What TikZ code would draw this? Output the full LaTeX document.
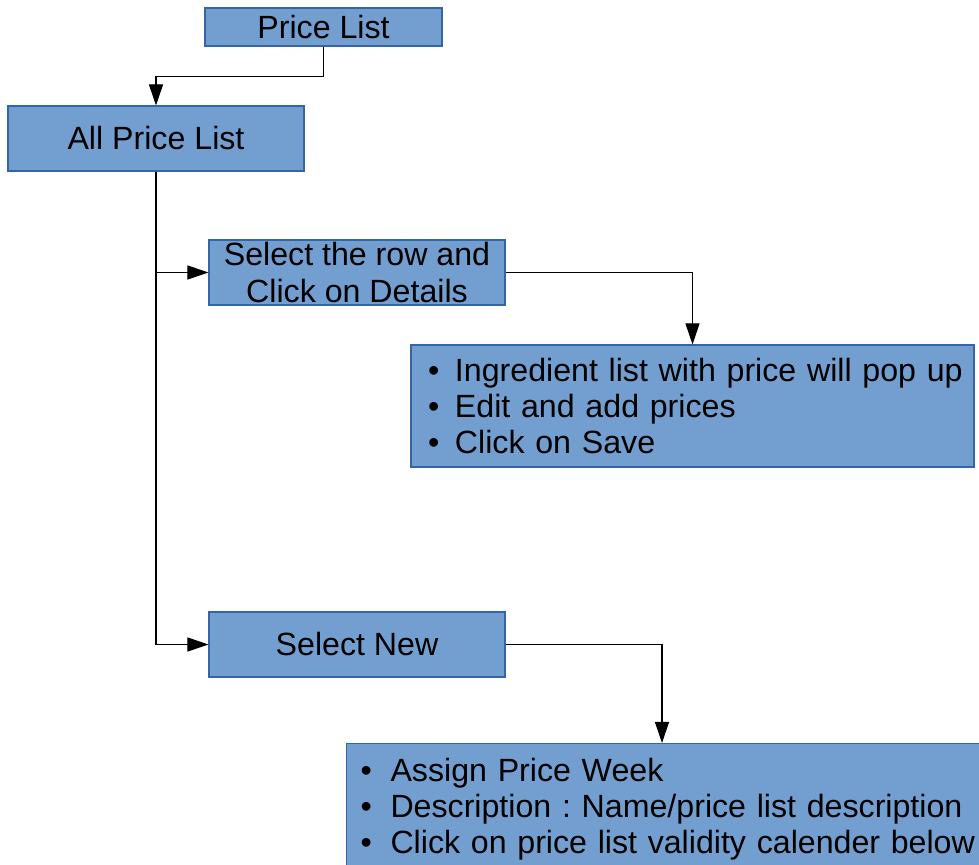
\documentclass[tikz,border=0pt]{standalone}
\usepackage{fontspec}
\setmainfont{Liberation Sans}
\usetikzlibrary{arrows.meta}
\definecolor{boxfill}{HTML}{729FCF}
\definecolor{boxline}{HTML}{3465A4}
\newcommand{\listdot}[2][0.54cm]{\hspace*{#2}\makebox[#1][l]{\textbullet}}
\begin{document}
\frenchspacing
\begin{tikzpicture}[
    box/.style={draw=boxline, fill=boxfill, line width=0.6pt, inner sep=0pt,
        font=\fontsize{18.3}{20.5}\selectfont, align=center},
    flow/.style={line width=0.6pt, -{Triangle[length=12pt,width=8pt]}}
  ]
            \clip (0,0) rectangle (19.58,-17.3);
            \useasboundingbox (0,0) rectangle (19.58,-17.3);
            \node[box, minimum width=4.74cm, minimum height=0.76cm] (pricelist) at (6.47,-0.54) {Price List};
            \node[box, minimum width=5.92cm, minimum height=1.3cm] (allprice) at (3.12,-2.77) {All Price List};
            \node[box, minimum width=5.92cm, minimum height=1.3cm] (selectrow) at (7.14,-5.45) {Select the row and\\Click on Details};
            \node[box, minimum width=11.26cm, minimum height=2.44cm,
                text width=11.26cm, align=left] (detailsbox) at (13.85,-8.12)
                {\listdot{0.34cm}Ingredient list with price will pop~up\\
                 \listdot{0.34cm}Edit and add prices\\
                 \listdot{0.34cm}Click on Save};
            \node[box, minimum width=5.92cm, minimum height=1.3cm] (selectnew) at (7.14,-12.89) {Select New};
            \node[box, anchor=north west, minimum width=13.2cm, minimum height=2.62cm,
                text width=13.2cm, align=left] (newbox) at (6.92,-14.86)
                {\listdot[0.6cm]{0.28cm}Assign Price Week\\
                 \listdot[0.6cm]{0.28cm}Description : Name/price list description\\
                 \listdot[0.6cm]{0.28cm}Click on price list validity calender below};
            \coordinate (newin) at (13.24,-14.86);
            % connectors
            \draw[flow] (pricelist.south) -- ++(0,-0.6) -| (allprice.north);
            \draw[line width=0.6pt] (allprice.south) -- (allprice.south |- selectnew.west);
            \draw[flow] (allprice.south |- selectrow.west) -- (selectrow.west);
            \draw[flow] (allprice.south |- selectnew.west) -- (selectnew.west);
            \draw[flow] (selectrow.east) -| (detailsbox.north);
            \draw[flow] (selectnew.east) -| (newin);
        \end{tikzpicture}
\end{document}
